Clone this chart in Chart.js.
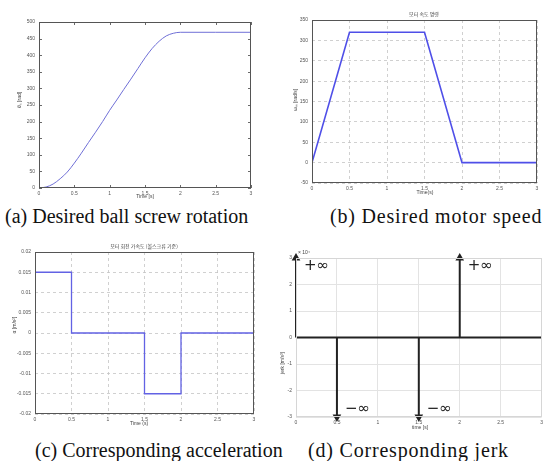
<!DOCTYPE html>
<html><head><meta charset="utf-8">
<script src="https://cdn.jsdelivr.net/npm/chart.js@4.4.0/dist/chart.umd.min.js"></script>
<style>
body{margin:0;width:546px;height:461px;background:#fff;position:relative;overflow:hidden;}
canvas{position:absolute;}
.cap{position:absolute;font-family:"Liberation Serif","Times New Roman",serif;font-size:20px;color:#111;white-space:nowrap;line-height:22px;}
</style></head><body>
<canvas id="ca"></canvas><canvas id="cb"></canvas><canvas id="cc"></canvas><canvas id="cd"></canvas>
<div class="cap" style="left:5px;top:205px">(a) Desired ball screw rotation</div>
<div class="cap" style="left:330px;top:205px;letter-spacing:0.8px">(b) Desired motor speed</div>
<div class="cap" style="left:35px;top:439px">(c) Corresponding acceleration</div>
<div class="cap" style="left:308px;top:439px;letter-spacing:0.8px">(d) Corresponding jerk</div>
<script>
// ---- data ----
const xTicks = [0, 0.5, 1, 1.5, 2, 2.5, 3];
const aTime = [0,0.1,0.2,0.3,0.4,0.5,0.6,0.7,0.8,0.9,1.0,1.1,1.2,1.3,1.4,1.5,1.6,1.7,1.8,1.9,2.0,2.5,3.0];
const aRot  = [0,3,12,28,48,75,105,137,168,200,234,265,297,328,360,392,420,442,458,466,469,469,469];
const aYTicks = [0,50,100,150,200,250,300,350,400,450,500];
const bTime = [0, 0.5, 1.5, 2, 3];
const bSpeed = [0, 320, 320, 0, 0];
const bYTicks = [-50,0,50,100,150,200,250,300,350];
const cTime = [0, 0.5, 0.5, 1.5, 1.5, 2, 2, 3];
const cAcc  = [0.015, 0.015, 0, 0, -0.015, -0.015, 0, 0];
const cYTicks = [-0.02,-0.015,-0.01,-0.005,0,0.005,0.01,0.015,0.02];
const dTime = [0, 0.5, 1.5, 2];
const dJerk = [3, -3, -3, 3];
const dLabel = ['+\u221E', '\u2212\u221E', '\u2212\u221E', '+\u221E'];
const dYTicks = [-3,-2,-1,0,1,2,3];

const tickFont = {family:'Liberation Sans', size:5};
const tickColor = '#555';

function decorPlugin(cfg, box) {
  return {
    id: 'decor',
    afterDraw(chart) {
      const ctx = chart.ctx, a = chart.chartArea, xs = chart.scales.x, ys = chart.scales.y;
      ctx.save();
      if (cfg.ticksIn) {
        ctx.strokeStyle = '#444'; ctx.lineWidth = 0.8;
        xs.ticks.forEach(t => {
          const p = Math.round(xs.getPixelForValue(t.value)) + 0.5;
          ctx.beginPath(); ctx.moveTo(p, a.bottom); ctx.lineTo(p, a.bottom - 3);
          ctx.moveTo(p, a.top); ctx.lineTo(p, a.top + 3); ctx.stroke();
        });
        ys.ticks.forEach(t => {
          const p = Math.round(ys.getPixelForValue(t.value)) + 0.5;
          ctx.beginPath(); ctx.moveTo(a.left, p); ctx.lineTo(a.left + 3, p);
          ctx.moveTo(a.right, p); ctx.lineTo(a.right - 3, p); ctx.stroke();
        });
      }
      if (cfg.box) {
        ctx.strokeStyle = cfg.box; ctx.lineWidth = 1;
        ctx.strokeRect(Math.round(a.left) + 0.5, Math.round(a.top) + 0.5,
                       Math.round(a.right - a.left) - 1, Math.round(a.bottom - a.top) - 1);
      }
      (cfg.texts || []).forEach(t => {
        ctx.save();
        ctx.fillStyle = t.color || '#444';
        ctx.font = t.font || '5px "Liberation Sans"';
        ctx.textAlign = t.align || 'center';
        ctx.textBaseline = 'middle';
        ctx.translate(t.x - box.x, t.y - box.y);
        if (t.rot) ctx.rotate(t.rot);
        ctx.fillText(t.t, 0, 0);
        ctx.restore();
      });
      if (cfg.extra) cfg.extra(chart, ctx);
      ctx.restore();
    }
  };
}

function build(id, box, area, o) {
  const cv = document.getElementById(id);
  cv.width = box.w; cv.height = box.h;
  cv.style.left = box.x + 'px'; cv.style.top = box.y + 'px';
  cv.style.width = box.w + 'px'; cv.style.height = box.h + 'px';
  const yW = area.l - box.x, xH = box.y + box.h - area.b;
  const padTop = area.t - box.y, padRight = box.x + box.w - area.r;
  return new Chart(cv, {
    type: 'scatter',
    data: {datasets: o.datasets},
    options: {
      responsive: false, animation: false, events: [],
      layout: {autoPadding: false, padding: {top: padTop, right: padRight, left: 0, bottom: 0}},
      plugins: {legend: {display: false}, tooltip: {enabled: false}},
      scales: {
        x: {
          type: 'linear', min: 0, max: 3,
          afterFit(s) { s.height = xH; },
          afterBuildTicks(s) { s.ticks = xTicks.map(v => ({value: v})); },
          ticks: {font: tickFont, color: tickColor, padding: o.xPad || 3, maxRotation: 0, autoSkip: false, callback: v => String(v)},
          grid: o.grid, border: {display: false, dash: o.dash || []}
        },
        y: {
          type: 'linear', min: o.yTicks[0], max: o.yTicks[o.yTicks.length - 1],
          afterFit(s) { s.width = yW; },
          afterBuildTicks(s) { s.ticks = o.yTicks.map(v => ({value: v})); },
          ticks: {font: tickFont, color: tickColor, padding: o.yPad || 4, autoSkip: false, callback: v => String(v)},
          grid: o.grid, border: {display: false, dash: o.dash || []}
        }
      }
    },
    plugins: [decorPlugin(o.decor, box)]
  });
}

const pts = (xs, ys) => xs.map((x, i) => ({x: x, y: ys[i]}));

// (a)
build('ca', {x: 0, y: 8, w: 262, h: 196}, {l: 39, t: 22, r: 251, b: 188}, {
  yTicks: aYTicks,
  grid: {display: false, drawTicks: false},
  datasets: [{data: pts(aTime, aRot), showLine: true, borderColor: '#6f6fd6', borderWidth: 1, pointRadius: 0, cubicInterpolationMode: 'monotone'}],
  decor: {box: '#555', ticksIn: true, texts: [
    {t: 'Time [s]', x: 145, y: 197},
    {t: '\u03B8\u209B [rad]', x: 20, y: 100, rot: -Math.PI / 2}
  ]}
});

// (b)
build('cb', {x: 273, y: 4, w: 273, h: 196}, {l: 312, t: 20, r: 537, b: 183}, {
  yTicks: bYTicks,
  grid: {color: '#c4c4c4', lineWidth: 0.8, drawTicks: false},
  dash: [3, 3],
  datasets: [{data: pts(bTime, bSpeed), showLine: true, borderColor: '#4f4fe8', borderWidth: 1.6, pointRadius: 0}],
  decor: {box: '#555', texts: [
    {t: '모터 속도 명령', x: 424, y: 14, font: '5px "Noto Sans CJK KR"'},
    {t: 'Time(s)', x: 425, y: 193},
    {t: '\u03C9\u2098 [rad/s]', x: 296, y: 100, rot: -Math.PI / 2}
  ]}
});

// (c)
build('cc', {x: 0, y: 238, w: 265, h: 194}, {l: 35, t: 252, r: 254, b: 414}, {
  yTicks: cYTicks,
  grid: {color: '#c4c4c4', lineWidth: 0.8, drawTicks: false},
  dash: [3, 3],
  datasets: [{data: pts(cTime, cAcc), showLine: true, borderColor: '#6262e4', borderWidth: 1.3, pointRadius: 0}],
  decor: {box: '#555', texts: [
    {t: '모터 회전 가속도 (볼스크류 기준)', x: 144, y: 246, font: '5px "Noto Sans CJK KR"'},
    {t: 'Time (s)', x: 139, y: 424},
    {t: '\u03B1 [m/s\u00B2]', x: 15, y: 325, rot: -Math.PI / 2}
  ]}
});

// (d)
const dSets = [{data: [{x: 0, y: 0}, {x: 3, y: 0}], showLine: true, borderColor: '#222', borderWidth: 2, pointRadius: 0, clip: false}];
dTime.forEach((t, i) => {
  dSets.push({
    data: [{x: t, y: 0}, {x: t, y: dJerk[i]}], showLine: true, borderColor: '#222', backgroundColor: '#222',
    borderWidth: 2, pointRadius: [0, 3], pointStyle: 'triangle', pointRotation: dJerk[i] > 0 ? 0 : 180, clip: false
  });
});
build('cd', {x: 273, y: 245, w: 273, h: 190}, {l: 296, t: 258, r: 545, b: 417}, {
  yTicks: dYTicks,
  grid: {color: '#e3e3e3', lineWidth: 1, drawTicks: false},
  datasets: dSets,
  decor: {box: '#d6d6d6', texts: [
    {t: 'time [s]', x: 420, y: 428},
    {t: 'jerk [m/s\u00B3]', x: 283, y: 363, rot: -Math.PI / 2},
    {t: '\u00D7 10\u2074', x: 298, y: 253, align: 'left'}
  ], extra(chart, ctx) {
    const xs = chart.scales.x, ys = chart.scales.y;
    ctx.fillStyle = '#222';
    ctx.font = '15px "DejaVu Sans"';
    ctx.textAlign = 'left'; ctx.textBaseline = 'middle';
    dTime.forEach((t, i) => {
      const px = xs.getPixelForValue(t) + 8;
      const py = ys.getPixelForValue(dJerk[i] > 0 ? 2.7 : -2.7);
      ctx.fillText(dLabel[i], px, py);
    });
  }}
});
</script>
</body></html>
